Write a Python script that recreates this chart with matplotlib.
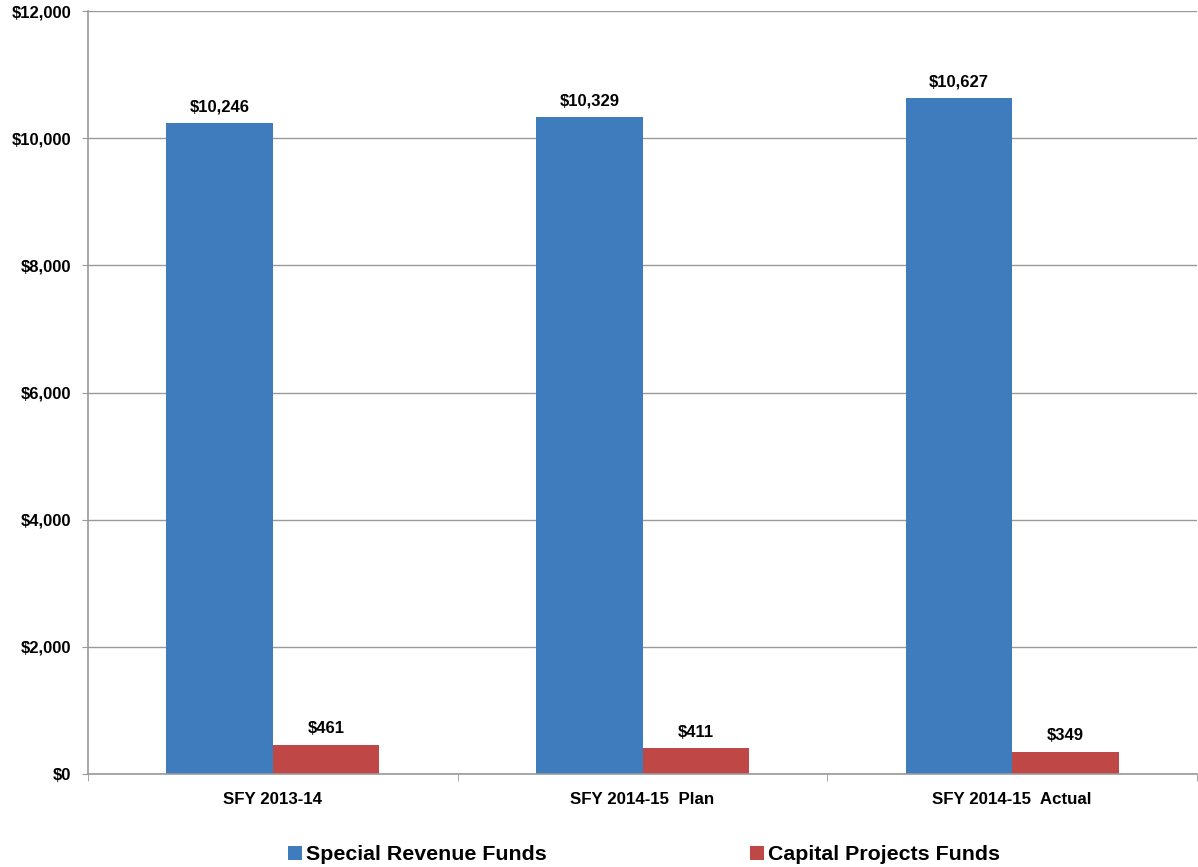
import matplotlib.pyplot as plt
import numpy as np
from matplotlib.ticker import FuncFormatter, FixedLocator

plt.rcParams['font.family'] = ['Liberation Sans', 'DejaVu Sans']
plt.rcParams['font.weight'] = 'bold'

categories = ['SFY 2013-14', 'SFY 2014-15  Plan', 'SFY 2014-15  Actual']
special_revenue = [10246, 10329, 10627]
capital_projects = [461, 411, 349]
series_names = ['Special Revenue Funds', 'Capital Projects Funds']
colors = ['#3F7CBE', '#BF4745']

fig = plt.figure(figsize=(11.98, 8.67), dpi=100)
ax = fig.add_axes([88 / 1198, 1 - 774 / 867, 1109 / 1198, 763 / 867])

x = np.arange(len(categories))
w = 0.288
b1 = ax.bar(x - w / 2, special_revenue, w, color=colors[0], label=series_names[0])
b2 = ax.bar(x + w / 2, capital_projects, w, color=colors[1], label=series_names[1])

for bars in (b1, b2):
    for r in bars:
        ax.annotate(f'${r.get_height():,.0f}', (r.get_x() + r.get_width() / 2, r.get_height()),
                    xytext=(0, 6), textcoords='offset points', ha='center', va='bottom',
                    fontsize=12, fontweight='bold')

ax.set_xlim(-0.5, len(categories) - 0.5)
ax.set_ylim(0, 12000)
ax.set_yticks(np.arange(0, 12001, 2000))
ax.yaxis.set_major_formatter(FuncFormatter(lambda v, p: f'${v:,.0f}'))
ax.set_xticks(x)
ax.set_xticklabels(categories, fontsize=12.2, fontweight='bold')
ax.tick_params(axis='x', length=0, pad=13)
ax.xaxis.set_minor_locator(FixedLocator([-0.5, 0.5, 1.5, 2.5]))
ax.tick_params(axis='x', which='minor', length=5, color='#999999', direction='out')
ax.tick_params(axis='y', length=4, color='#999999', labelsize=12, pad=8)
for t in ax.get_yticklabels():
    t.set_fontweight('bold')

ax.grid(axis='y', color='#999999', linewidth=1)
ax.set_axisbelow(True)
for s in ['top', 'right']:
    ax.spines[s].set_visible(False)
for s in ['left', 'bottom']:
    ax.spines[s].set_color('#999999')
    ax.spines[s].set_linewidth(1.2)

leg = fig.legend(handles=[b1, b2], loc='lower center', bbox_to_anchor=(0.5376, -0.019), ncol=2,
                 frameon=False, fontsize=15.4, handlelength=0.65, handleheight=0.65,
                 handletextpad=0.2, columnspacing=9.5)
for t in leg.get_texts():
    t.set_fontweight('bold')

fig.savefig('out.png', dpi=100)
